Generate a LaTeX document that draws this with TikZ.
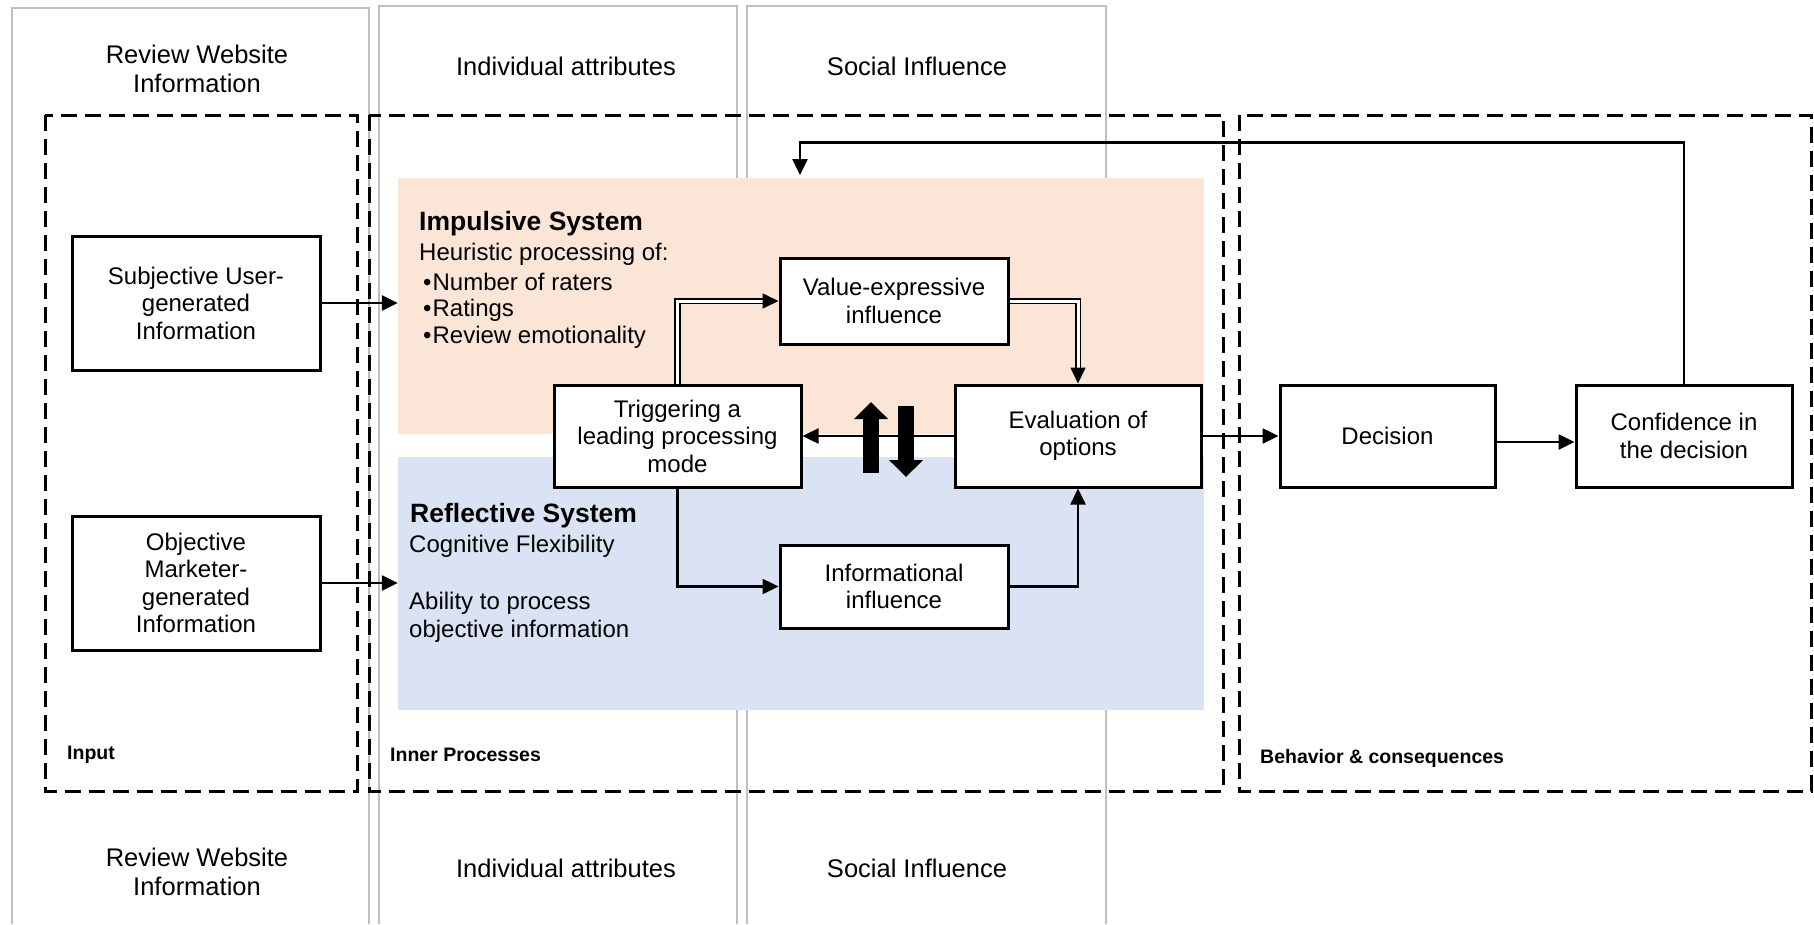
\documentclass[tikz,border=0pt]{standalone}
\usepackage{fontspec}
\setmainfont{Liberation Sans}
\usetikzlibrary{arrows.meta}

\definecolor{impfill}{HTML}{FBE5D6}
\definecolor{reffill}{HTML}{DAE3F3}
\definecolor{colgray}{HTML}{BFBFBF}

\tikzset{
  box/.style={draw, line width=3pt, fill=white, align=center, inner sep=0pt,
    font=\fontsize{24}{27.5}\selectfont},
  arr/.style={line width=2.5pt, -{Triangle[length=16pt,width=15pt]}},
  dbl/.style={double, line width=1.6pt, double distance=3pt, -{Triangle[length=16pt,width=15pt]}},
  fat/.style={line width=16pt, -{Triangle[length=17pt,width=33pt]}},
  zone/.style={line width=3pt, dash pattern=on 16pt off 8pt},
  col/.style={draw=colgray, line width=2.5pt},
  head/.style={align=center, font=\fontsize{25.5}{29}\selectfont},
  txt/.style={anchor=west, inner sep=0pt, font=\fontsize{24}{28}\selectfont},
  ttl/.style={anchor=west, inner sep=0pt, font=\fontsize{26.5}{30}\selectfont\bfseries},
  lbl/.style={anchor=west, inner sep=0pt, font=\fontsize{19.5}{22}\selectfont\bfseries}
}

\begin{document}
\begin{tikzpicture}[x=1pt, y=-1pt]
\useasboundingbox (0,0) rectangle (1814,924);

% gray columns
\draw[col] (12,924) -- (12,8) -- (369,8) -- (369,924);
\draw[col] (379,924) -- (379,6) -- (737,6) -- (737,924);
\draw[col] (747,924) -- (747,6) -- (1106,6) -- (1106,924);

\node[head] (hRW) at (197,69) {Review Website\\Information};
\node[head] (hIA) at (566,66) {Individual attributes};
\node[head] (hSI) at (917,66) {Social Influence};
\node[head] (fRW) at (197,872) {Review Website\\Information};
\node[head] (fIA) at (566,868) {Individual attributes};
\node[head] (fSI) at (917,868) {Social Influence};

% dashed zones
\draw[zone] (45,115) rectangle (357,791);
\draw[zone] (369,115) rectangle (1223,791);
\draw[zone] (1239,115) rectangle (1811,791);
\node[lbl] (lIn) at (67,755) {Input};
\node[lbl] (lInner) at (390,755) {Inner Processes};
\node[lbl] (lBeh) at (1260,758) {Behavior \& consequences};

% systems
\node[fill=impfill, minimum width=806pt, minimum height=256pt, inner sep=0pt] (imp) at (801,306) {};
\node[fill=reffill, minimum width=806pt, minimum height=253pt, inner sep=0pt] (refl) at (801,583.5) {};

\node[ttl] (impT) at (419,224) {Impulsive System};
\node[txt] (imp1) at (419,254) {Heuristic processing of:};
\node[txt] (imp2) at (423,282) {\textbullet\hspace{1pt}Number of raters};
\node[txt] (imp3) at (423,310) {\textbullet\hspace{1pt}Ratings};
\node[txt] (imp4) at (423,337) {\textbullet\hspace{1pt}Review emotionality};

\node[ttl] (refT) at (410,516) {Reflective System};
\node[txt] (ref1) at (409,546) {Cognitive Flexibility};
\node[txt] (ref2) at (409,603) {Ability to process};
\node[txt] (ref3) at (409,631) {objective information};

% boxes
\node[box, minimum width=248pt, minimum height=134pt] (subj) at (196,303) {Subjective User-\\generated\\Information};
\node[box, minimum width=248pt, minimum height=134pt] (obj) at (196,583) {Objective\\Marketer-\\generated\\Information};
\node[box, minimum width=228pt, minimum height=86pt] (val) at (894,301) {Value-expressive\\influence};
\node[box, minimum width=247pt, minimum height=102pt] (trig) at (677.5,436) {Triggering a\\leading processing\\mode};
\node[box, minimum width=246pt, minimum height=102pt] (eval) at (1078,436) {Evaluation of\\options};
\node[box, minimum width=228pt, minimum height=83pt] (info) at (894,586.5) {Informational\\influence};
\node[box, minimum width=215pt, minimum height=102pt] (dec) at (1387.5,436) {Decision};
\node[box, minimum width=216pt, minimum height=102pt] (conf) at (1684,436) {Confidence in\\the decision};

% connectors
\draw[arr] (subj.east) -- (subj.east -| imp.west);
\draw[arr] (obj.east) -- (obj.east -| refl.west);
\draw[dbl] (trig.north) |- (val.west);
\draw[dbl] (val.east) -| (eval.north);
\draw[arr] (trig.south) |- (info.west);
\draw[arr] (info.east) -| (eval.south);
\draw[arr] (eval.west) -- (trig.east);
\draw[arr] (eval.east) -- (dec.west);
\draw[arr] ([yshift=-6pt]dec.east) -- ([yshift=-6pt]conf.west);
\coordinate (fb) at (800,175);
\draw[arr] (conf.north) -- ++(0,-241) -| (fb);

% exchange between the systems
\coordinate (upA) at (871,473);
\coordinate (upB) at (871,402);
\coordinate (dnA) at (906,406);
\coordinate (dnB) at (906,477);
\draw[fat] (upA) -- (upB);
\draw[fat] (dnA) -- (dnB);

\end{tikzpicture}
\end{document}
